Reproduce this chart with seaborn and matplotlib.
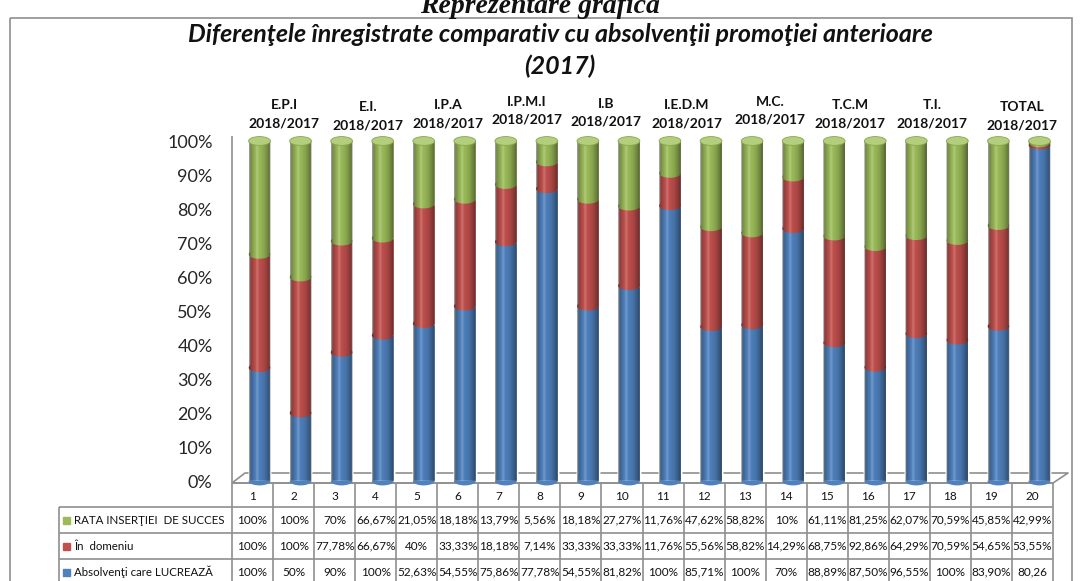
import numpy as np
import pandas as pd
import matplotlib
matplotlib.use("Agg")
import matplotlib.pyplot as plt
import seaborn as sns
from matplotlib.patches import Ellipse, Rectangle, PathPatch
from matplotlib.path import Path

# ---------------- data ----------------
columns = [str(i) for i in range(1, 21)]
groups = ["E.P.I", "E.I.", "I.P.A", "I.P.M.I", "I.B", "I.E.D.M", "M.C.", "T.C.M", "T.I.", "TOTAL"]
group_sub = "2018/2017"
series_names = ["RATA INSERŢIEI  DE SUCCES", "În  domeniu", "Absolvenţi care LUCREAZĂ"]
green_lbl = ["100%", "100%", "70%", "66,67%", "21,05%", "18,18%", "13,79%", "5,56%", "18,18%", "27,27%",
             "11,76%", "47,62%", "58,82%", "10%", "61,11%", "81,25%", "62,07%", "70,59%", "45,85%", "42,99%"]
red_lbl = ["100%", "100%", "77,78%", "66,67%", "40%", "33,33%", "18,18%", "7,14%", "33,33%", "33,33%",
           "11,76%", "55,56%", "58,82%", "14,29%", "68,75%", "92,86%", "64,29%", "70,59%", "54,65%", "53,55%"]
blue_lbl = ["100%", "50%", "90%", "100%", "52,63%", "54,55%", "75,86%", "77,78%", "54,55%", "81,82%",
            "100%", "85,71%", "100%", "70%", "88,89%", "87,50%", "96,55%", "100%", "83,90%", "80,26"]
yticks = [0, 0.1, 0.2, 0.3, 0.4, 0.5, 0.6, 0.7, 0.8, 0.9, 1.0]
ytick_lbl = ["0%", "10%", "20%", "30%", "40%", "50%", "60%", "70%", "80%", "90%", "100%"]


def parse(s):
    v = float(s.rstrip("%").replace(",", "."))
    return v / 100 if s.endswith("%") else v


green = np.array([parse(s) for s in green_lbl])
red = np.array([parse(s) for s in red_lbl])
blue = np.array([parse(s) for s in blue_lbl])
total = green + red + blue
df = pd.DataFrame({
    "col": columns,
    "blue_top": blue / total,
    "red_top": (blue + red) / total,
    "green_top": total / total,
})

# ---------------- style ----------------
sns.set_theme(style="white")
plt.rcParams["font.family"] = ["Lato", "DejaVu Sans"]

C_GREEN = "#9BBB59"
C_RED = "#C0504D"
C_BLUE = "#4F81BD"
C_GREEN_CAP = "#B3CE7C"
GRID = "#8f8f8f"

W, H = 1080, 581
fig = plt.figure(figsize=(W / 100, H / 100), dpi=100)

# overlay axes in pixel coordinates
ov = fig.add_axes([0, 0, 1, 1], zorder=0)
ov.set_xlim(0, W)
ov.set_ylim(H, 0)
ov.axis("off")

# main axes
X0, X1 = 232, 1053
Y100, Y0 = 141, 481
ax = fig.add_axes([X0 / W, (H - Y0) / H, (X1 - X0) / W, (Y0 - Y100) / H], zorder=1)
ax.patch.set_alpha(0)

BW = 0.53
sns.barplot(data=df, x="col", y="green_top", color=C_GREEN, saturation=1, width=BW, ax=ax, zorder=2)
sns.barplot(data=df, x="col", y="red_top", color=C_RED, saturation=1, width=BW, ax=ax, zorder=2)
sns.barplot(data=df, x="col", y="blue_top", color=C_BLUE, saturation=1, width=BW, ax=ax, zorder=2)

EH = 0.026  # ellipse height in data units
for i in range(len(columns)):
    bt, rt = df["blue_top"][i], df["red_top"][i]
    ax.add_patch(Ellipse((i, 0), BW, EH, color=C_BLUE, zorder=1.9, clip_on=False, lw=0))
    ax.add_patch(Ellipse((i, bt), BW, EH, color=C_RED, zorder=2.5, clip_on=False, lw=0))
    ax.add_patch(Ellipse((i, rt), BW, EH, color=C_GREEN, zorder=2.6, clip_on=False, lw=0))

# cylinder shading
N = 64
t = np.linspace(0, 1, N)
alpha = np.interp(t, [0, 0.08, 0.3, 0.45, 0.7, 0.92, 1], [0.45, 0.25, 0.0, 0.0, 0.12, 0.35, 0.5])
light = np.interp(t, [0, 0.25, 0.38, 0.5, 1], [0, 0, 0.18, 0, 0])
grad = np.zeros((1, N, 4))
grad[..., 3] = alpha
for k in range(N):
    if light[k] > 0 and alpha[k] == 0:
        grad[0, k, :3] = 1
        grad[0, k, 3] = light[k]
for i in range(len(columns)):
    x0, x1 = i - BW / 2, i + BW / 2
    th = np.linspace(np.pi, 2 * np.pi, 30)
    arc_x = i + BW / 2 * np.cos(th)
    arc_y = EH / 2 * np.sin(th)
    verts = list(zip(arc_x, arc_y)) + [(x1, 1.0), (x0, 1.0), (arc_x[0], arc_y[0])]
    codes = [Path.MOVETO] + [Path.LINETO] * (len(verts) - 2) + [Path.CLOSEPOLY]
    clip = PathPatch(Path(verts, codes), transform=ax.transData)
    im = ax.imshow(grad, extent=[x0, x1, -EH, 1.0], aspect="auto", zorder=3, interpolation="bilinear")
    im.set_clip_path(clip)
    ax.add_patch(Ellipse((i, 1.0), BW, EH, facecolor=C_GREEN_CAP, edgecolor="#8aa64c", lw=0.6,
                         zorder=4, clip_on=False))

ax.set_xlim(-0.5 - 0.17, 19.5 - 0.17)
ax.set_ylim(0, 1)
ax.set_xticks([])
ax.set_xlabel("")
ax.set_ylabel("")
ax.set_yticks(yticks)
ax.set_yticklabels(ytick_lbl, fontsize=13)
ax.tick_params(axis="y", length=0, pad=14)
for sp in ax.spines.values():
    sp.set_visible(False)

# ---------------- walls / floor ----------------
lkw = dict(color=GRID, lw=1.2, solid_capstyle="butt")
ov.plot([X0, X0], [136, 483], **lkw)
ov.plot([X0, 245, 1068, X1, X0], [483, 473, 473, 483, 483], **lkw)

# ---------------- table ----------------
cw = (X1 - X0) / 20
rows_y = [483, 507, 533, 559, 585]
ov.plot([X0, X1], [rows_y[0]] * 2, **lkw)
for yy in rows_y[1:]:
    ov.plot([59, X1], [yy, yy], **lkw)
for k in range(21):
    xx = X0 + k * cw
    ov.plot([xx, xx], [483, 585], **lkw)
ov.plot([59, 59], [507, 585], **lkw)
tkw = dict(ha="center", va="center", fontsize=8.5, color="#111111")
for k, c in enumerate(columns):
    xc = X0 + (k + 0.5) * cw
    ov.text(xc, 496, c, **tkw)
    ov.text(xc, 520, green_lbl[k], **tkw)
    ov.text(xc, 546, red_lbl[k], **tkw)
    ov.text(xc, 572, blue_lbl[k], **tkw)
for name, col, yc in zip(series_names, [C_GREEN, C_RED, C_BLUE], [520, 546, 572]):
    ov.add_patch(Rectangle((63, yc - 3.5), 7, 7, color=col))
    ov.text(74, yc, name, ha="left", va="center", fontsize=8.3, color="#111111")

# ---------------- group headers ----------------
gx = [284, 368, 448, 527, 606, 687, 770, 850, 932, 1022]
gy = [105, 107, 105, 102, 104, 105, 102, 105, 105, 107]
for g, xx, yy in zip(groups, gx, gy):
    ov.text(xx, yy, g, ha="center", va="center", fontsize=10, fontweight="bold", color="#111111")
    ov.text(xx, yy + 18, group_sub, ha="center", va="center", fontsize=10, fontweight="bold",
            color="#111111")

# ---------------- titles / frame ----------------
ov.add_patch(Rectangle((10, 18), 1062, 600, fill=False, edgecolor=GRID, lw=1.2))
ov.text(560, 34, "Diferenţele înregistrate comparativ cu absolvenţii promoţiei anterioare",
        ha="center", va="center", fontsize=18, fontweight="bold", fontstyle="italic", color="#111111")
ov.text(560, 66, "(2017)", ha="center", va="center", fontsize=18, fontweight="bold",
        fontstyle="italic", color="#111111")
ov.text(540, 13, "Reprezentare grafică", ha="center", va="baseline", fontsize=20,
        fontweight="bold", fontstyle="italic", color="#111111",
        family=["Liberation Serif", "DejaVu Serif"])

fig.savefig("out.png", dpi=100)
